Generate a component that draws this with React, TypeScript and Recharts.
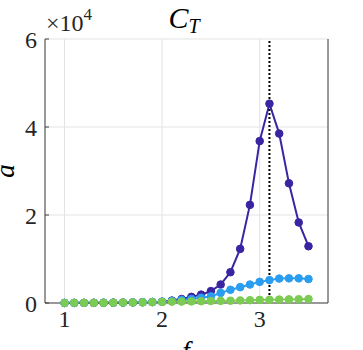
import React from "react";
import {
    LineChart,
    Line,
    XAxis,
    YAxis,
    CartesianGrid,
    ReferenceLine,
} from "recharts";

// frequency samples
const freqs = [
    1.0, 1.1, 1.2, 1.3, 1.4, 1.5, 1.6, 1.7, 1.8, 1.9, 2.0, 2.1, 2.2, 2.3, 2.4,
    2.5, 2.6, 2.7, 2.8, 2.9, 3.0, 3.1, 3.2, 3.3, 3.4, 3.5,
];

// series values (raw units, axis shows x10^4)
const purpleVals = [
    20, 30, 40, 50, 60, 80, 100, 130, 170, 220, 300, 550, 900, 1400, 1900,
    2700, 4200, 7000, 12300, 22300, 36800, 45300, 38500, 27200, 18300, 12900,
];
const blueVals = [
    20, 30, 40, 50, 60, 80, 100, 130, 170, 220, 300, 450, 700, 900, 1200, 1500,
    2300, 3000, 3600, 4200, 4800, 5200, 5550, 5600, 5600, 5450,
];
const greenVals = [
    10, 20, 30, 40, 60, 80, 100, 120, 150, 200, 250, 300, 320, 350, 400, 450,
    480, 520, 580, 640, 700, 740, 780, 820, 860, 900,
];

const xTicks = [1, 2, 3];
const yTicks = [0, 20000, 40000, 60000];
const markerF = 3.1;

const data = freqs.map((f, i) => ({
    f,
    purple: purpleVals[i],
    blue: blueVals[i],
    green: greenVals[i],
}));

const FONT = "Liberation Serif, Times New Roman, DejaVu Serif, serif";
const AXIS = "#404040";

const tickStyle = { fontFamily: FONT, fontSize: 24, fill: "#262626" };

export default function App() {
    return (
        <div style={{ position: "fixed", left: 0, top: 0, width: 363, height: 350, background: "#fff", fontFamily: FONT }}>
            <LineChart
                width={363}
                height={350}
                data={data}
                margin={{ top: 39, right: 0, bottom: 0, left: 0 }}
                style={{ fontFamily: FONT }}
            >
                <CartesianGrid
                    stroke="#e3e3e3"
                    strokeWidth={1}
                    xAxisId="x"
                    yAxisId="y"
                />
                <XAxis
                    xAxisId="x"
                    dataKey="f"
                    type="number"
                    domain={[0.8, 3.7]}
                    ticks={xTicks}
                    allowDataOverflow
                    height={47}
                    stroke={AXIS}
                    tickSize={-4}
                    tickMargin={11}
                    tick={tickStyle}
                />
                <XAxis
                    xAxisId="top"
                    orientation="top"
                    type="number"
                    dataKey="f"
                    domain={[0.8, 3.7]}
                    ticks={xTicks}
                    height={0}
                    stroke={AXIS}
                    tickSize={-4}
                    tickFormatter={() => ""}
                />
                <YAxis
                    yAxisId="y"
                    type="number"
                    domain={[0, 60000]}
                    ticks={yTicks}
                    width={45}
                    stroke={AXIS}
                    tickSize={-4}
                    tickMargin={12}
                    tick={tickStyle}
                    tickFormatter={(v: number) => String(v / 10000)}
                />
                <YAxis
                    yAxisId="right"
                    orientation="right"
                    type="number"
                    domain={[0, 60000]}
                    ticks={yTicks}
                    width={35}
                    stroke={AXIS}
                    tickSize={-4}
                    tickFormatter={() => ""}
                />
                <Line
                    xAxisId="x"
                    yAxisId="y"
                    dataKey="purple"
                    stroke="#3b24a2"
                    strokeWidth={2}
                    dot={{ r: 3.8, fill: "#3b24a2", stroke: "#3b24a2", strokeWidth: 1 }}
                    isAnimationActive={false}
                />
                <Line
                    xAxisId="x"
                    yAxisId="y"
                    dataKey="blue"
                    stroke="#2a9df0"
                    strokeWidth={2}
                    dot={{ r: 3.8, fill: "#2a9df0", stroke: "#2a9df0", strokeWidth: 1 }}
                    isAnimationActive={false}
                />
                <Line
                    xAxisId="x"
                    yAxisId="y"
                    dataKey="green"
                    stroke="#7ccb52"
                    strokeWidth={2}
                    dot={{ r: 3.8, fill: "#7ccb52", stroke: "#7ccb52", strokeWidth: 1 }}
                    isAnimationActive={false}
                />
                <ReferenceLine
                    xAxisId="x"
                    yAxisId="y"
                    x={markerF}
                    stroke="#000"
                    strokeWidth={2}
                    strokeDasharray="2 2"
                />
            </LineChart>
            <svg
                width={363}
                height={350}
                style={{ position: "absolute", left: 0, top: 0, pointerEvents: "none", fontFamily: FONT }}
            >
                <text x={184} y={28} textAnchor="middle" fontStyle="italic" fontSize={30} fill="#000">
                    C<tspan fontSize={20} dy={5}>T</tspan>
                </text>
                <text x={46} y={31} fontSize={24} fill="#262626">
                    ×10<tspan fontSize={17} dy={-11}>4</tspan>
                </text>
                <text
                    x={0}
                    y={0}
                    transform="translate(14,171) rotate(-90)"
                    textAnchor="middle"
                    fontStyle="italic"
                    fontSize={27}
                    fill="#000"
                >
                    a
                </text>
                <text x={186} y={360} textAnchor="middle" fontStyle="italic" fontSize={27} fill="#000">
                    f
                </text>
            </svg>
        </div>
    );
}
